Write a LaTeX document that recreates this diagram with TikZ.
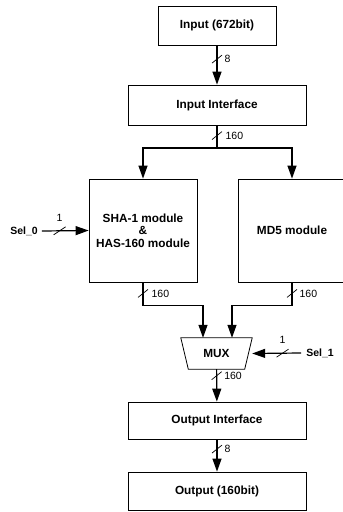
\documentclass[tikz,border=0pt]{standalone}
\usepackage{fontspec}
\setmainfont{Liberation Sans}
\usetikzlibrary{arrows.meta,positioning,calc}
\tikzset{
  block/.style={draw, line width=0.8pt, font=\bfseries\fontsize{11.8}{13.5}\selectfont, align=center, inner sep=0pt},
  bus/.style={line width=1.2pt, -{Triangle[length=13pt,width=9pt]}},
  wire/.style={line width=1.2pt},
  buslabel/.style={font=\fontsize{10.5}{12}\selectfont, inner sep=0pt},
  sigtext/.style={font=\bfseries\fontsize{10.5}{12}\selectfont, inner sep=0pt},
  vslash/.pic={\draw[line width=0.7pt, -] (-5pt,-4pt)--(5pt,4pt);},
  hslash/.pic={\draw[line width=0.7pt, -] (-6pt,-4pt)--(6pt,4pt);}
}
\begin{document}
\begin{tikzpicture}[x=1pt,y=-1pt]
\useasboundingbox (0,0) rectangle (343,512);
% blocks
\node[block, minimum width=118pt, minimum height=39pt] (in) at (217,25.5) {Input (672bit)};
\node[block, minimum width=178pt, minimum height=40pt] (inif) at (217,105) {Input Interface};
\node[block, minimum width=108pt, minimum height=103pt] (sha) at (143,230.5) {SHA-1 module\\[-1pt]\&\\[-1pt]HAS-160 module};
\node[block, minimum width=108pt, minimum height=103pt] (md5) at (292,230.5) {MD5 module};
\node[font=\bfseries\fontsize{11.8}{13.5}\selectfont, minimum width=71pt, minimum height=31pt, inner sep=0pt] (mux) at (216.5,353.5) {MUX};
\draw[line width=0.8pt] (mux.north west) -- (mux.north east) -- ([xshift=-7.5pt]mux.south east) -- ([xshift=7.5pt]mux.south west) -- cycle;
\node[block, minimum width=178pt, minimum height=37pt] (outif) at (217,420.5) {Output Interface};
\node[block, minimum width=178pt, minimum height=38pt] (out) at (217,491) {Output (160bit)};
% select inputs
\node[sigtext] (sel0) at (24,231) {Sel\_0};
\node[sigtext] (sel1) at (320,353) {Sel\_1};
\coordinate (split) at (217,148);
% connectors
\draw[bus] (in) -- (inif) pic[pos=0.35]{vslash} node[buslabel, pos=0.35, right=7pt]{8};
\draw[wire] (inif) -- (split) pic[pos=0.45]{vslash} node[buslabel, pos=0.45, right=8pt]{160};
\draw[bus] (split) -| (sha);
\draw[bus] (split) -| (md5);
\draw[bus] ([xshift=4pt]sel0.east) -- (sha.west) pic[pos=0.38]{hslash} node[buslabel, pos=0.38, above=9pt]{1};
\draw[bus] (sha.south) -- ++(0,23) pic[pos=0.48]{vslash} node[buslabel, pos=0.48, right=8pt]{160} -| ([xshift=-13.5pt]mux.north);
\draw[bus] (md5.south) -- ++(0,23) pic[pos=0.48]{vslash} node[buslabel, pos=0.48, right=7pt]{160} -| ([xshift=15.5pt]mux.north);
\draw[bus] ([xshift=-5pt]sel1.west) -- (mux.east) pic[pos=0.38]{hslash} node[buslabel, pos=0.38, above=9pt]{1};
\draw[bus] (mux) -- (outif) pic[pos=0.2]{vslash} node[buslabel, pos=0.2, right=7pt]{160};
\draw[bus] (outif) -- (out) pic[pos=0.3]{vslash} node[buslabel, pos=0.3, right=7pt]{8};
\end{tikzpicture}
\end{document}
